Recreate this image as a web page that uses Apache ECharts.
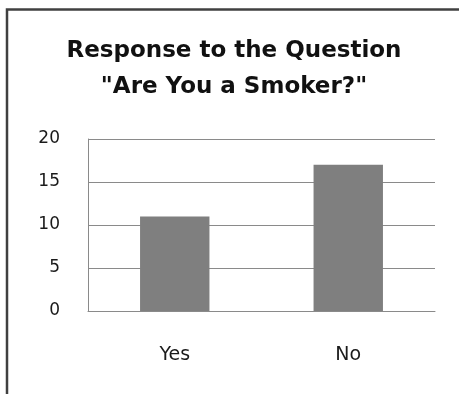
<!DOCTYPE html>
<html>
<head>
<meta charset="utf-8">
<script src="https://cdn.jsdelivr.net/npm/echarts@6/dist/echarts.min.js"></script>
<style>
  html, body { margin: 0; padding: 0; background: #fff; }
  #chart { width: 459px; height: 394px; }
</style>
</head>
<body>
<div id="chart"></div>
<script>
// Survey answers and counts
const categories = ['Yes', 'No'];
const counts = [11, 17];
const yTicks = { min: 0, max: 20, interval: 5 };
const titleLines = ['Response to the Question', '"Are You a Smoker?"'];

const chart = echarts.init(document.getElementById('chart'), null, { renderer: 'canvas' });

chart.setOption({
  animation: false,
  backgroundColor: '#ffffff',
  title: {
    text: titleLines.join('\n'),
    left: 229,
    top: 28,
    textAlign: 'center',
    textStyle: {
      fontFamily: 'DejaVu Sans',
      fontWeight: 'bold',
      fontSize: 23,
      lineHeight: 36,
      color: '#111111'
    }
  },
  graphic: [{
    type: 'rect',
    shape: { x: 7, y: 9.5, width: 480, height: 420 },
    style: { fill: 'none', stroke: '#404040', lineWidth: 2.5 },
    silent: true
  }],
  grid: { left: 88, right: 24, top: 139, bottom: 83 },
  xAxis: {
    type: 'category',
    data: categories,
    axisLine: { show: true, lineStyle: { color: '#8a8a8a', width: 1 } },
    axisTick: { show: false },
    axisLabel: {
      margin: 35,
      fontFamily: 'DejaVu Sans',
      fontSize: 19,
      color: '#1a1a1a'
    }
  },
  yAxis: {
    type: 'value',
    min: yTicks.min,
    max: yTicks.max,
    interval: yTicks.interval,
    axisLine: { show: true, lineStyle: { color: '#8a8a8a', width: 1 } },
    axisTick: { show: false },
    splitLine: { show: true, lineStyle: { color: '#8a8a8a', width: 1 } },
    axisLabel: {
      margin: 28,
      fontFamily: 'DejaVu Sans',
      fontSize: 17,
      color: '#1a1a1a'
    }
  },
  series: [{
    type: 'bar',
    data: counts,
    barWidth: '40%',
    itemStyle: { color: '#7f7f7f' }
  }]
});
</script>
</body>
</html>
